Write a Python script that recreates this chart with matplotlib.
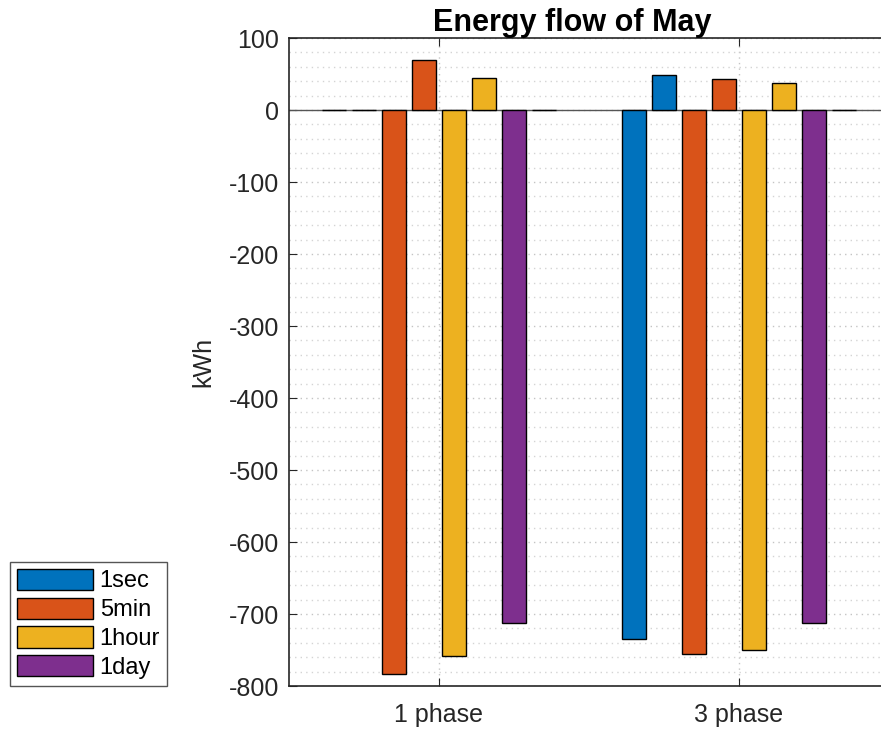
import matplotlib
matplotlib.use("Agg")
import matplotlib.pyplot as plt
from matplotlib.ticker import MultipleLocator
import numpy as np

plt.rcParams['font.family'] = ['Liberation Sans', 'DejaVu Sans']

groups = ['1 phase', '3 phase']
series = ['1sec', '5min', '1hour', '1day']
colors = ['#0072BD', '#D95319', '#EDB120', '#7E2F8E']

# negative and positive energy per series, per group
neg = {
    '1sec': [0, -735],
    '5min': [-783, -756],
    '1hour': [-758, -750],
    '1day': [-712, -712],
}
pos = {
    '1sec': [0, 49],
    '5min': [70, 43],
    '1hour': [45, 37],
    '1day': [0, 0],
}

fig = plt.figure(figsize=(8.81, 7.30), dpi=100)
ax = fig.add_axes([289 / 881, 44 / 730, 600 / 881, 648 / 730])

x = np.arange(1, len(groups) + 1)
w = 0.08
step = 0.1
for i, s in enumerate(series):
    off_n = -0.35 + 2 * i * step
    off_p = off_n + step
    ax.bar(x + off_n, neg[s], w, color=colors[i], edgecolor='black',
           linewidth=1, label=s, zorder=3)
    ax.bar(x + off_p, pos[s], w, color=colors[i], edgecolor='black',
           linewidth=1, zorder=3)

ax.axhline(0, color='#555555', linewidth=1, zorder=2)

ax.set_xlim(0.5, 2.5)
ax.set_ylim(-800, 100)
ax.set_xticks(x)
ax.set_xticklabels(groups)
ax.yaxis.set_minor_locator(MultipleLocator(20))
ax.set_yticks(np.arange(-800, 101, 100))
ax.set_yticklabels([str(v) for v in range(-800, 101, 100)])

ax.grid(True, which='major', linestyle=(0, (1, 3)), color='#c4c4c4', linewidth=1, zorder=0)
ax.grid(True, which='minor', axis='y', linestyle=(0, (1, 3)), color='#d4d4d4', linewidth=1, zorder=0)
ax.set_axisbelow(True)

ax.tick_params(axis='both', which='major', direction='in', length=6,
               labelsize=18, colors='#262626', top=True, right=True)
ax.tick_params(axis='y', which='major', pad=7)
ax.tick_params(axis='x', which='major', pad=12)
ax.tick_params(axis='y', which='minor', length=0)
for sp in ax.spines.values():
    sp.set_color('#262626')
    sp.set_linewidth(1.2)

ax.set_ylabel('kWh', fontsize=18, color='#262626', labelpad=10)
ax.set_title('Energy flow of May', fontsize=22, fontweight='bold', pad=5, x=0.472)

leg = fig.legend(loc='lower left', bbox_to_anchor=(10 / 881, 44 / 730),
                 fontsize=17, handlelength=3.2, handleheight=1.0,
                 labelspacing=0.22, handletextpad=0.3, borderpad=0.3,
                 borderaxespad=0, fancybox=False, framealpha=1,
                 edgecolor='#555555')
leg.get_frame().set_linewidth(1)

fig.savefig('out.png', dpi=100)
